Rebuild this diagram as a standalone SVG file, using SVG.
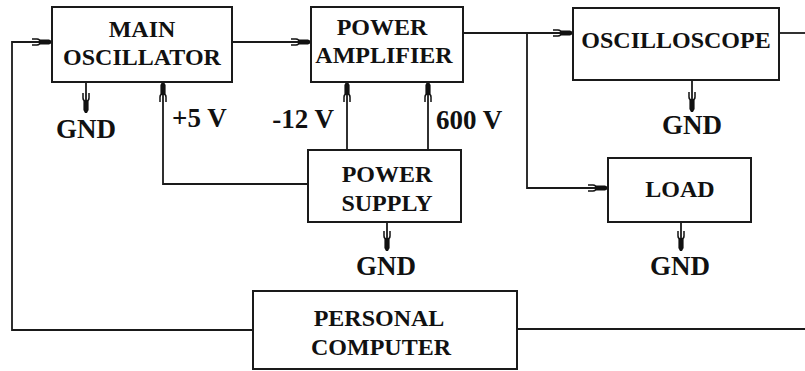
<svg xmlns="http://www.w3.org/2000/svg" width="805" height="371" viewBox="0 0 805 371">
<style>
.box{fill:#fff;stroke:#1a1a1a;stroke-width:2}
.t{font-family:"Liberation Serif","Times New Roman",serif;font-weight:bold;font-size:24px;fill:#111;text-anchor:middle}
.lb{font-family:"Liberation Serif","Times New Roman",serif;font-weight:bold;font-size:27px;fill:#111}
.c{fill:none;stroke:#1a1a1a;stroke-width:1.8}
</style>
<defs>
<marker id="arr" markerUnits="userSpaceOnUse" markerWidth="30" markerHeight="12" refX="0" refY="0" orient="auto" overflow="visible">
<path d="M-12,-2.6 H-3 L0,-1 V1 L-3,2.6 H-12 Z" fill="#111"/>
<path d="M-20,-3 H-15 Q-12,-3 -12,0 Q-12,3 -15,3 H-20" fill="none" stroke="#111" stroke-width="1.5"/>
</marker>
</defs>
<rect width="805" height="371" fill="#fff"/>
<g id="connectors">
<polyline class="c" points="253,330 12,330 12,42 52,42" marker-end="url(#arr)"/>
<line class="c" x1="517" y1="329" x2="805" y2="329"/>
<line class="c" x1="779" y1="33" x2="805" y2="33"/>
<line class="c" x1="232" y1="42" x2="311" y2="42" marker-end="url(#arr)"/>
<line class="c" x1="463" y1="33" x2="573" y2="33" marker-end="url(#arr)"/>
<polyline class="c" points="527,33 527,188 608,188" marker-end="url(#arr)"/>
<line class="c" x1="347" y1="150" x2="347" y2="82" marker-end="url(#arr)"/>
<line class="c" x1="428" y1="150" x2="428" y2="82" marker-end="url(#arr)"/>
<polyline class="c" points="308,184 163,184 163,82" marker-end="url(#arr)"/>
<line class="c" x1="86" y1="82" x2="86" y2="113" marker-end="url(#arr)"/>
<line class="c" x1="692" y1="80" x2="692" y2="112" marker-end="url(#arr)"/>
<line class="c" x1="387" y1="222" x2="387" y2="251" marker-end="url(#arr)"/>
<line class="c" x1="681" y1="222" x2="681" y2="251" marker-end="url(#arr)"/>
</g>
<g id="main-oscillator">
<rect class="box" x="52" y="7" width="180" height="75"/>
<text class="t" x="142" y="37">MAIN</text>
<text class="t" x="142" y="65">OSCILLATOR</text>
</g>
<g id="power-amplifier">
<rect class="box" x="311" y="7" width="152" height="75"/>
<text class="t" x="382" y="35">POWER</text>
<text class="t" x="384" y="63">AMPLIFIER</text>
</g>
<g id="oscilloscope">
<rect class="box" x="573" y="8" width="206" height="72"/>
<text class="t" x="676" y="48">OSCILLOSCOPE</text>
</g>
<g id="power-supply">
<rect class="box" x="308" y="150" width="153" height="72"/>
<text class="t" x="387" y="182">POWER</text>
<text class="t" x="387" y="211">SUPPLY</text>
</g>
<g id="load">
<rect class="box" x="608" y="158" width="143" height="64"/>
<text class="t" x="680" y="197">LOAD</text>
</g>
<g id="personal-computer">
<rect class="box" x="253" y="291" width="264" height="78"/>
<text class="t" x="379" y="326">PERSONAL</text>
<text class="t" x="381" y="355">COMPUTER</text>
</g>
<g id="labels">
<text class="lb" x="86" y="138" text-anchor="middle">GND</text>
<text class="lb" x="692" y="134" text-anchor="middle">GND</text>
<text class="lb" x="386" y="275" text-anchor="middle">GND</text>
<text class="lb" x="680" y="275" text-anchor="middle">GND</text>
<text class="lb" x="172" y="127">+5 V</text>
<text class="lb" x="334" y="128" text-anchor="end">-12 V</text>
<text class="lb" x="436" y="129">600 V</text>
</g>
</svg>
